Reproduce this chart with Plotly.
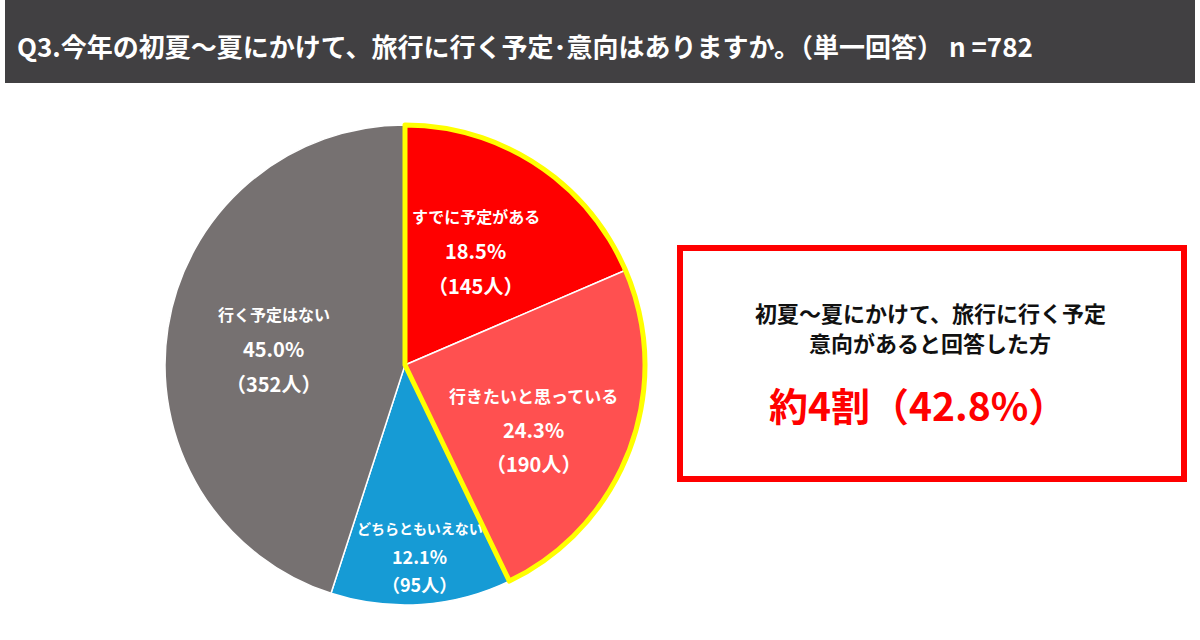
import math
import plotly.graph_objects as go

# ---------------- data ----------------
categories = ["すでに予定がある", "行きたいと思っている", "どちらともいえない", "行く予定はない"]
counts = [145, 190, 95, 352]
percents = [18.5, 24.3, 12.1, 45.0]
intent_groups = ["予定・意向あり", "その他"]
intent_counts = [145 + 190, 95 + 352]
intent_percent = 42.8
n_total = 782

title_text = "Q3.今年の初夏～夏にかけて、旅行に行く予定･意向はありますか。（単一回答） n =782"
box_line1 = "初夏～夏にかけて、旅行に行く予定"
box_line2 = "意向があると回答した方"
box_main = "約4割（42.8%）"

# ---------------- style ----------------
W, H = 1200, 640
slice_colors = ["#FF0000", "#FF5050", "#169BD5", "#767171"]
label_font_sizes = [16, 17, 14, 16]
number_font_sizes = [20, 20, 18, 20]
label_line_gap = [35, 34, 28, 35]
label_radius_frac = [0.56, 0.60, 0.80, 0.55]
label_angle_adjust = [-1.5, 6.0, -0.5, -2.0]

dom_x = [165 / W, 645 / W]
dom_y = [1 - 605 / H, 1 - 125 / H]

fig = go.Figure()

fig.add_trace(go.Pie(
    labels=categories, values=counts, sort=False, direction="clockwise",
    rotation=0, textinfo="none", hoverinfo="label+percent",
    marker=dict(colors=slice_colors, line=dict(color="white", width=1.5)),
    domain=dict(x=dom_x, y=dom_y), showlegend=False,
))

fig.add_trace(go.Pie(
    labels=intent_groups, values=intent_counts, sort=False, direction="clockwise",
    rotation=0, textinfo="none", hoverinfo="skip",
    marker=dict(colors=["rgba(0,0,0,0)", "rgba(0,0,0,0)"],
                line=dict(color=["#FFFF00", "rgba(0,0,0,0)"], width=5)),
    domain=dict(x=dom_x, y=dom_y), showlegend=False,
))

# label annotations computed from data
cx_px = (dom_x[0] + dom_x[1]) / 2 * W
cy_px = (1 - (dom_y[0] + dom_y[1]) / 2) * H
R = min((dom_x[1] - dom_x[0]) * W, (dom_y[1] - dom_y[0]) * H) / 2
total = sum(counts)
cum = 0
annotations = []
for i, (cat, c, p) in enumerate(zip(categories, counts, percents)):
    mid = (cum + c / 2) / total * 360 + label_angle_adjust[i]
    cum += c
    r = R * label_radius_frac[i]
    x_px = cx_px + r * math.sin(math.radians(mid))
    y_px = cy_px - r * math.cos(math.radians(mid))
    lines = [cat, f"{p:.1f}%", f"（{c}人）"]
    sizes = [label_font_sizes[i], number_font_sizes[i], number_font_sizes[i]]
    for j, t in enumerate(lines):
        annotations.append(dict(
            x=x_px / W, y=1 - (y_px + (j - 1) * label_line_gap[i]) / H,
            xref="paper", yref="paper", text=f"<b>{t}</b>", showarrow=False,
            font=dict(color="white", size=sizes[j]),
            xanchor="center", yanchor="middle",
        ))

# title
annotations.append(dict(
    x=15 / W, y=1 - 45 / H, xref="paper", yref="paper", text=f"<b>{title_text}</b>",
    showarrow=False, xanchor="left", yanchor="middle",
    font=dict(color="white", size=26),
))

# summary box texts
annotations.append(dict(x=930 / W, y=1 - 312 / H, xref="paper", yref="paper",
                        text=f"<b>{box_line1}</b>", showarrow=False,
                        font=dict(color="#111111", size=22), xanchor="center", yanchor="middle"))
annotations.append(dict(x=930 / W, y=1 - 342 / H, xref="paper", yref="paper",
                        text=f"<b>{box_line2}</b>", showarrow=False,
                        font=dict(color="#111111", size=22), xanchor="center", yanchor="middle"))
annotations.append(dict(x=918 / W, y=1 - 404 / H, xref="paper", yref="paper",
                        text=f"<b>{box_main}</b>", showarrow=False,
                        font=dict(color="#FF0000", size=39), xanchor="center", yanchor="middle"))

shapes = [
    dict(type="rect", xref="paper", yref="paper", x0=5 / W, x1=1195 / W,
         y0=1 - 83 / H, y1=1, fillcolor="#414042", line=dict(width=0), layer="below"),
    dict(type="rect", xref="paper", yref="paper", x0=680 / W, x1=1184 / W,
         y0=1 - 479 / H, y1=1 - 248 / H, fillcolor="white",
         line=dict(color="#FF0000", width=6), layer="below"),
]

fig.update_layout(
    width=W, height=H, margin=dict(l=0, r=0, t=0, b=0),
    paper_bgcolor="white", plot_bgcolor="white",
    font=dict(family="Noto Sans CJK JP, Noto Sans, sans-serif"),
    annotations=annotations, shapes=shapes, showlegend=False,
)

fig.write_html("out.html")
